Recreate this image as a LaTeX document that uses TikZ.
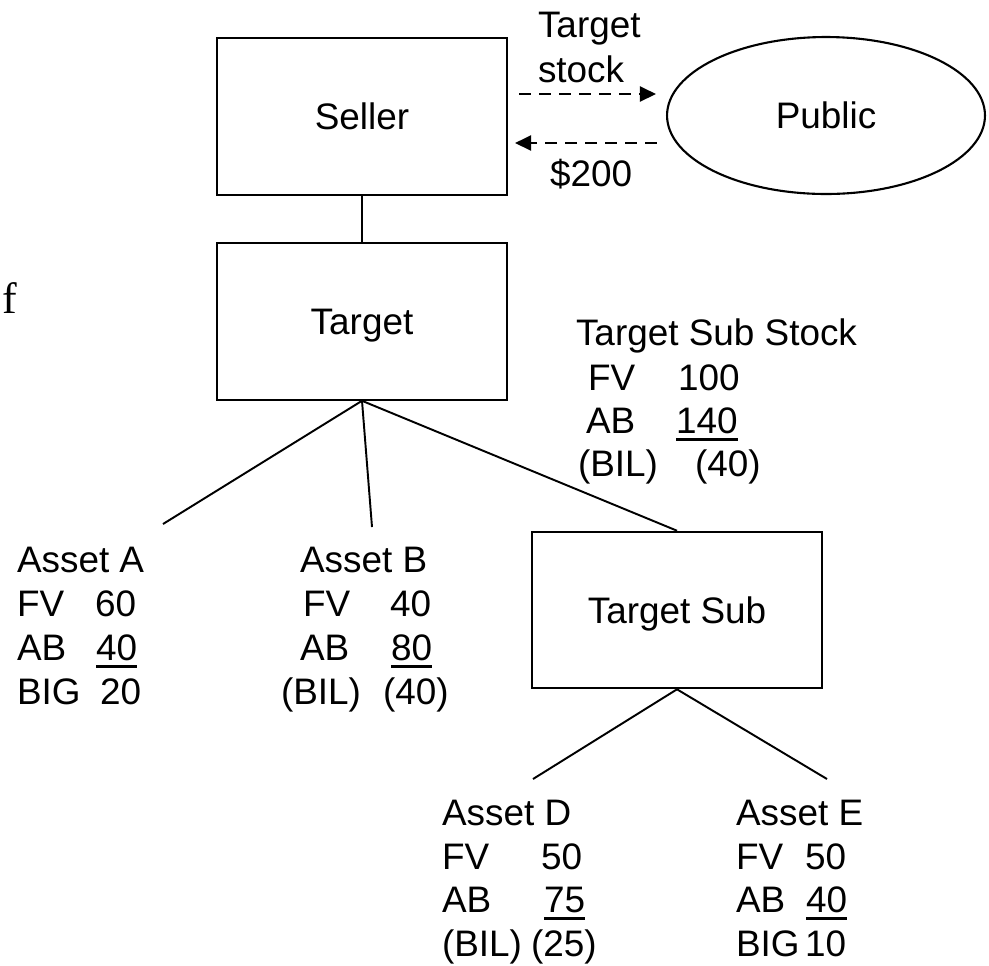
\documentclass[tikz,border=0pt]{standalone}
\usepackage{fontspec}
\setmainfont{Liberation Sans}
\newfontfamily\serifface{Liberation Serif}
\usetikzlibrary{arrows.meta,shapes.geometric,calc}

% underlined figure with a heavy rule just below the baseline
\newcommand{\ulfig}[1]{\setbox0\hbox{#1}\rlap{\rule[-0.165cm]{\wd0}{0.06cm}}\box0}

\tikzset{
  lbl/.style={inner sep=0pt, outer sep=0pt, anchor=base west,
              font=\fontsize{21}{25}\selectfont},
  boxnode/.style={draw, line width=1.2pt, rectangle, inner sep=0pt,
                  minimum width=5.8cm, minimum height=3.13cm,
                  text height=0.53cm, text depth=0pt,
                  font=\fontsize{21}{25}\selectfont},
  ovalnode/.style={draw, line width=1.2pt, ellipse, inner sep=0pt,
                   minimum width=6.36cm, minimum height=3.14cm,
                   text height=0.53cm, text depth=0pt,
                   font=\fontsize{21}{25}\selectfont},
  link/.style={line width=1.1pt},
  flow/.style={line width=1.2pt, dash pattern=on 0.24cm off 0.16cm,
               -{Triangle[length=0.32cm,width=0.3cm]}},
}

\begin{document}
\begin{tikzpicture}[x=0.02cm, y=-0.02cm]
\useasboundingbox (0,0) rectangle (989,965);

% parties
\node[boxnode]  (seller) at (362,116.5) {Seller};
\node[ovalnode] (public) at (826,115.5) {Public};
\node[boxnode]  (target) at (362,321.5) {Target};
\node[boxnode]  (tsub)   at (677,610)   {Target Sub};

% exchange between seller and public
\draw[flow] ($(seller.east)+(11,-22.5)$) -- ($(public.west)+(-10,-21.5)$);
\draw[flow] ($(public.west)+(-9,27.5)$) -- ($(seller.east)+(7,26.5)$);
\node[lbl] (lstock1) at (538,37)  {Target};
\node[lbl] (lstock2) at (538,82)  {stock};
\node[lbl] (lcash)   at (550,186) {\$200};

% ownership lines
\coordinate (endA) at (163,524);
\coordinate (endB) at (372,527);
\coordinate (endD) at (533,779);
\coordinate (endE) at (827,779);
\draw[link] (seller.south) -- (target.north);
\draw[link] (target.south) -- (endA);
\draw[link] (target.south) -- (endB);
\draw[link] (target.south) -- (tsub.north);
\draw[link] (tsub.south) -- (endD);
\draw[link] (tsub.south) -- (endE);

% stray margin letter
\node[inner sep=0pt, anchor=base west, font=\serifface\fontsize{25}{30}\selectfont] (mf) at (2,313) {f};

% Target Sub stock
\node[lbl] (s0)  at (576,345) {Target Sub Stock};
\node[lbl] (s1a) at (588,390) {FV};
\node[lbl] (s1b) at (678,390) {100};
\node[lbl] (s2a) at (586,433) {AB};
\node[lbl] (s2b) at (676,433) {\ulfig{140}};
\node[lbl] (s3a) at (578,476) {(BIL)};
\node[lbl] (s3b) at (695,476) {(40)};

% Asset A
\node[lbl] (a0)  at (17,572)  {Asset A};
\node[lbl] (a1a) at (17,616)  {FV};
\node[lbl] (a1b) at (95,616)  {60};
\node[lbl] (a2a) at (17,660)  {AB};
\node[lbl] (a2b) at (96,660)  {\ulfig{40}};
\node[lbl] (a3a) at (17,704)  {BIG};
\node[lbl] (a3b) at (100,704) {20};

% Asset B
\node[lbl] (b0)  at (300,572) {Asset B};
\node[lbl] (b1a) at (303,616) {FV};
\node[lbl] (b1b) at (390,616) {40};
\node[lbl] (b2a) at (300,660) {AB};
\node[lbl] (b2b) at (391,660) {\ulfig{80}};
\node[lbl] (b3a) at (281,704) {(BIL)};
\node[lbl] (b3b) at (383,704) {(40)};

% Asset D
\node[lbl] (d0)  at (442,825) {Asset D};
\node[lbl] (d1a) at (442,869) {FV};
\node[lbl] (d1b) at (541,869) {50};
\node[lbl] (d2a) at (442,912) {AB};
\node[lbl] (d2b) at (544,912) {\ulfig{75}};
\node[lbl] (d3a) at (442,956) {(BIL)};
\node[lbl] (d3b) at (531,956) {(25)};

% Asset E
\node[lbl] (e0)  at (736,825) {Asset E};
\node[lbl] (e1a) at (736,869) {FV};
\node[lbl] (e1b) at (805,869) {50};
\node[lbl] (e2a) at (736,912) {AB};
\node[lbl] (e2b) at (806,912) {\ulfig{40}};
\node[lbl] (e3a) at (736,956) {BIG};
\node[lbl] (e3b) at (805,956) {10};
\end{tikzpicture}
\end{document}
